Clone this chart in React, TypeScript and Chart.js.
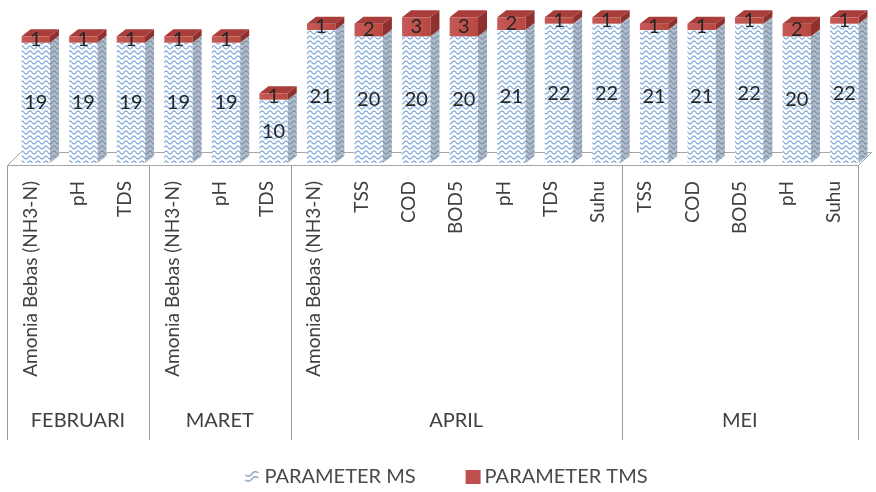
import React, { useEffect, useRef } from "react";
import { Chart, registerables } from "chart.js";

Chart.register(...registerables);

// Parameter groups per month
const months = ["FEBRUARI", "MARET", "APRIL", "MEI"];
const febParams = ["Amonia Bebas (NH3-N)", "pH", "TDS"];
const marParams = ["Amonia Bebas (NH3-N)", "pH", "TDS"];
const aprParams = ["Amonia Bebas (NH3-N)", "TSS", "COD", "BOD5", "pH", "TDS", "Suhu"];
const meiParams = ["TSS", "COD", "BOD5", "pH", "Suhu"];
const monthParams = [febParams, marParams, aprParams, meiParams];
const categories = monthParams.flat();

// Counts per parameter
const msValues = [19, 19, 19, 19, 19, 10, 21, 20, 20, 20, 21, 22, 22, 21, 21, 22, 20, 22];
const tmsValues = [1, 1, 1, 1, 1, 1, 1, 2, 3, 3, 2, 1, 1, 1, 1, 1, 2, 1];

const seriesNames = ["PARAMETER MS", "PARAMETER TMS"];

const FONT = "Lato, 'Open Sans', sans-serif";
const DX = 9;
const DY = 7;

function waveTile(bg: string, line: string, w = 8, h = 5, lw = 1.2): HTMLCanvasElement {
  const c = document.createElement("canvas");
  c.width = w;
  c.height = h;
  const g = c.getContext("2d")!;
  g.fillStyle = bg;
  g.fillRect(0, 0, w, h);
  g.strokeStyle = line;
  g.lineWidth = lw;
  g.beginPath();
  for (let x = 0; x <= w; x += 0.5) {
    const y = h / 2 + Math.sin((x / w) * Math.PI * 2) * (h * 0.3);
    if (x === 0) g.moveTo(x, y);
    else g.lineTo(x, y);
  }
  g.stroke();
  return c;
}

function msIcon(): HTMLCanvasElement {
  const c = document.createElement("canvas");
  c.width = 15;
  c.height = 13;
  const g = c.getContext("2d")!;
  g.strokeStyle = "#7f9cba";
  g.lineWidth = 1.3;
  [4, 9].forEach((yc) => {
    g.beginPath();
    for (let x = 1; x <= 14; x += 0.5) {
      const y = yc + Math.sin(((x - 1) / 13) * Math.PI * 2) * 1.8 - (x - 7) * 0.15;
      if (x === 1) g.moveTo(x, y);
      else g.lineTo(x, y);
    }
    g.stroke();
  });
  return c;
}

function frontCenter(x: number, left: number) {
  return x + 5 + (x - left) * 0.006;
}

const bars3d = {
  id: "bars3d",
  beforeDatasetsDraw(chart: any) {
    const { ctx, chartArea: a } = chart;
    const y0 = chart.scales.y.getPixelForValue(0);
    const fy = Math.round(y0) + 2.5;
    ctx.save();
    ctx.strokeStyle = "#a6a6a6";
    ctx.lineWidth = 1;
    ctx.beginPath();
    ctx.moveTo(a.left + 0.5, fy);
    ctx.lineTo(a.right + 0.5, fy);
    ctx.lineTo(a.right + 13.5, fy - 13);
    ctx.lineTo(a.left + 13.5, fy - 13);
    ctx.closePath();
    ctx.stroke();
    ctx.restore();
  },
  afterDatasetsDraw(chart: any) {
    const { ctx, chartArea: a } = chart;
    const front = ctx.createPattern(waveTile("#fbfdff", "#7fa6d6"), "repeat");
    const side = ctx.createPattern(waveTile("#aebbca", "#7f91a7"), "repeat");
    const nDs = chart.data.datasets.length;
    const labels: { x: number; y: number; t: string }[] = [];
    ctx.save();
    for (let i = 0; i < categories.length; i++) {
      for (let d = 0; d < nDs; d++) {
        const el = chart.getDatasetMeta(d).data[i];
        const p = el.getProps(["x", "y", "base", "width"], true);
        const cx = frontCenter(p.x, a.left);
        const L = cx - p.width / 2;
        const R = cx + p.width / 2;
        const top = Math.min(p.y, p.base);
        const bot = Math.max(p.y, p.base);
        const isMs = d === 0;
        // front face
        if (isMs) {
          ctx.fillStyle = front;
        } else {
          const gr = ctx.createLinearGradient(L, 0, R, 0);
          gr.addColorStop(0, "#c65a57");
          gr.addColorStop(1, "#b8473f");
          ctx.fillStyle = gr;
        }
        ctx.fillRect(L, top, R - L, bot - top);
        // side face
        ctx.fillStyle = isMs ? side : "#8e302d";
        ctx.beginPath();
        ctx.moveTo(R, top);
        ctx.lineTo(R + DX, top - DY);
        ctx.lineTo(R + DX, bot - DY);
        ctx.lineTo(R, bot);
        ctx.closePath();
        ctx.fill();
        // top face on the uppermost segment
        if (d === nDs - 1) {
          ctx.fillStyle = isMs ? "#dfe8f2" : "#a93d39";
          ctx.beginPath();
          ctx.moveTo(L, top);
          ctx.lineTo(R, top);
          ctx.lineTo(R + DX, top - DY);
          ctx.lineTo(L + DX, top - DY);
          ctx.closePath();
          ctx.fill();
        }
        const v = chart.data.datasets[d].data[i];
        labels.push({ x: cx, y: (top + bot) / 2, t: String(v) });
      }
    }
    ctx.fillStyle = "#262626";
    ctx.font = `20px ${FONT}`;
    ctx.textAlign = "center";
    ctx.textBaseline = "middle";
    labels.forEach((l) => ctx.fillText(l.t, l.x, l.y));
    ctx.restore();
  },
  afterDraw(chart: any) {
    const { ctx } = chart;
    const xs = chart.scales.x;
    const catW = (xs.right - xs.left) / categories.length;
    const y0 = Math.round(chart.scales.y.getPixelForValue(0)) + 2.5;
    ctx.save();
    // group separators and month names
    ctx.strokeStyle = "#9a9a9a";
    ctx.lineWidth = 1;
    let k = 0;
    const bounds: number[] = [xs.getPixelForValue(0) - catW / 2];
    monthParams.forEach((g) => {
      k += g.length;
      bounds.push(xs.getPixelForValue(k - 1) + catW / 2);
    });
    bounds.forEach((bx) => {
      const x = Math.round(bx) + 0.5;
      ctx.beginPath();
      ctx.moveTo(x, y0);
      ctx.lineTo(x, 440);
      ctx.stroke();
    });
    ctx.fillStyle = "#404040";
    ctx.font = `20px ${FONT}`;
    ctx.textAlign = "center";
    ctx.textBaseline = "middle";
    months.forEach((m, j) => {
      ctx.fillText(m, (bounds[j] + bounds[j + 1]) / 2, 421);
    });

    // legend
    ctx.font = `20px ${FONT}`;
    ctx.textAlign = "left";
    const w1 = ctx.measureText(seriesNames[0]).width;
    const w2 = ctx.measureText(seriesNames[1]).width;
    const total = 15 + 5 + w1 + 50 + 15 + 4 + w2;
    let x = 446 - total / 2;
    const ly = 477;
    ctx.drawImage(msIcon(), x, ly - 7);
    x += 20;
    ctx.fillStyle = "#4a4a4a";
    ctx.fillText(seriesNames[0], x, ly);
    x += w1 + 50;
    ctx.fillStyle = "#c0504d";
    ctx.fillRect(x, ly - 7, 15, 14);
    x += 19;
    ctx.fillStyle = "#4a4a4a";
    ctx.fillText(seriesNames[1], x, ly);
    ctx.restore();
  },
};

export default function App() {
  const ref = useRef<HTMLCanvasElement | null>(null);

  useEffect(() => {
    if (!ref.current) return;
    const chart = new Chart(ref.current, {
      type: "bar",
      data: {
        labels: categories,
        datasets: [
          { label: seriesNames[0], data: msValues, backgroundColor: "rgba(0,0,0,0)" },
          { label: seriesNames[1], data: tmsValues, backgroundColor: "rgba(0,0,0,0)" },
        ],
      },
      options: {
        animation: false,
        responsive: true,
        maintainAspectRatio: false,
        layout: { padding: { top: 11, left: 7, right: 18, bottom: 0 } },
        datasets: { bar: { categoryPercentage: 1, barPercentage: 0.6 } },
        plugins: { legend: { display: false }, tooltip: { enabled: false } },
        scales: {
          x: {
            stacked: true,
            offset: true,
            grid: { display: false, drawTicks: false },
            border: { display: false },
            ticks: {
              autoSkip: false,
              minRotation: 90,
              maxRotation: 90,
              padding: 18,
              color: "#404040",
              font: { family: FONT, size: 19 },
            },
            afterFit(scale: any) {
              scale.height = 329;
            },
          },
          y: { stacked: true, display: false, min: 0, max: 24 },
        },
      },
      plugins: [bars3d],
    });
    return () => chart.destroy();
  }, []);

  return (
    <div style={{ position: "fixed", left: 0, top: 0, width: 876, height: 492, background: "#ffffff" }}>
      <canvas ref={ref} />
    </div>
  );
}
